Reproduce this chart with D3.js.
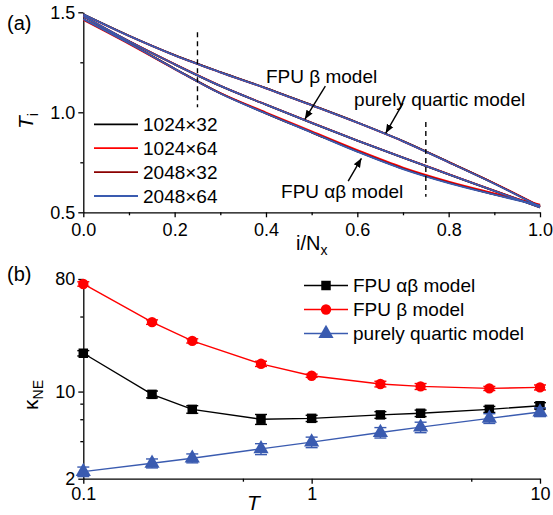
<!DOCTYPE html>
<html>
<head>
<meta charset="utf-8">
<script src="https://cdn.jsdelivr.net/npm/d3@7/dist/d3.min.js"></script>
<style>
  body { margin: 0; background: #fff; }
  svg { display: block; font-family: "Liberation Sans", Arial, sans-serif; }
  .axis path, .axis line { stroke: #000; stroke-width: 1.3; }
  .axis text { font-size: 18px; fill: #000; font-family: "Liberation Sans", Arial, sans-serif; }
</style>
</head>
<body>
<div id="chart"></div>
<script>
// ---- panel (a): temperature profiles ----
var posX = [0, 0.1, 0.2, 0.3, 0.4, 0.5, 0.6, 0.7, 0.8, 0.9, 1.0];
var sizes = ['1024\u00d732', '1024\u00d764', '2048\u00d732', '2048\u00d764'];
var sizeColors = ['#000000', '#ff0000', '#8b0000', '#3a5bb0'];

// purely quartic model
var quartic1024x32 = [1.490, 1.383, 1.286, 1.201, 1.121, 1.036, 0.949, 0.856, 0.751, 0.644, 0.528];
var quartic1024x64 = [1.488, 1.382, 1.285, 1.200, 1.120, 1.035, 0.948, 0.855, 0.751, 0.645, 0.531];
var quartic2048x32 = [1.490, 1.383, 1.286, 1.201, 1.121, 1.036, 0.949, 0.856, 0.751, 0.644, 0.528];
var quartic2048x64 = [1.490, 1.382, 1.285, 1.200, 1.120, 1.035, 0.948, 0.855, 0.750, 0.643, 0.528];
// FPU beta model
var beta1024x32 = [1.480, 1.355, 1.240, 1.132, 1.038, 0.947, 0.858, 0.773, 0.690, 0.607, 0.525];
var beta1024x64 = [1.479, 1.356, 1.241, 1.133, 1.039, 0.948, 0.859, 0.774, 0.691, 0.608, 0.527];
var beta2048x32 = [1.480, 1.355, 1.240, 1.132, 1.038, 0.947, 0.858, 0.773, 0.690, 0.607, 0.525];
var beta2048x64 = [1.481, 1.355, 1.240, 1.132, 1.038, 0.947, 0.858, 0.773, 0.690, 0.607, 0.524];
// FPU alpha-beta model
var ab1024x32 = [1.465, 1.345, 1.218, 1.095, 0.995, 0.900, 0.805, 0.718, 0.648, 0.590, 0.535];
var ab1024x64 = [1.462, 1.342, 1.216, 1.096, 0.999, 0.905, 0.811, 0.724, 0.654, 0.595, 0.538];
var ab2048x32 = [1.465, 1.345, 1.218, 1.095, 0.995, 0.900, 0.805, 0.718, 0.648, 0.590, 0.535];
var ab2048x64 = [1.466, 1.345, 1.217, 1.094, 0.994, 0.899, 0.803, 0.716, 0.646, 0.588, 0.533];

var profiles = [
  [quartic1024x32, quartic1024x64, quartic2048x32, quartic2048x64],
  [beta1024x32, beta1024x64, beta2048x32, beta2048x64],
  [ab1024x32, ab1024x64, ab2048x32, ab2048x64]
];

// ---- panel (b): conductivity vs T ----
var tempT = [0.1, 0.2, 0.3, 0.6, 1, 2, 3, 6, 10];
var kappaAB = [20.3, 9.5, 7.2, 6.0, 6.1, 6.5, 6.7, 7.2, 7.7];
var errAB = [1.0, 0.6, 0.5, 0.55, 0.35, 0.4, 0.4, 0.4, 0.45];
var kappaBeta = [73, 36.1, 25.5, 16.7, 13.4, 11.5, 11.0, 10.6, 10.8];
var errBeta = [3, 1.5, 1.0, 0.8, 0.4, 0.6, 0.6, 0.4, 0.5];
var kappaQ = [2.28, 2.66, 2.92, 3.47, 3.93, 4.69, 5.18, 6.1, 6.85];
var errQ = [0.2, 0.22, 0.24, 0.35, 0.38, 0.45, 0.5, 0.55, 0.55];
var modelNames = ['FPU \u03b1\u03b2 model', 'FPU \u03b2 model', 'purely quartic model'];
var modelColors = ['#000000', '#ff0000', '#3a5bb0'];
var modelShapes = [d3.symbolSquare, d3.symbolCircle, d3.symbolTriangle];

var W = 553, H = 515;
var svg = d3.select('#chart').append('svg').attr('width', W).attr('height', H);

// ================= panel (a) =================
var xA = d3.scaleLinear().domain([0, 1]).range([83.3, 540]);
var yA = d3.scaleLinear().domain([0.5, 1.5]).range([212.3, 12.3]);
var gA = svg.append('g');

function minorAxis(g, axis) { g.call(axis).call(function(s){ s.select('.domain').remove(); s.selectAll('text').remove(); }); }

gA.append('g').attr('class', 'axis').attr('transform', 'translate(0,212.3)')
  .call(d3.axisBottom(xA).tickValues([0, 0.2, 0.4, 0.6, 0.8, 1.0]).tickSize(5).tickSizeOuter(0).tickPadding(6).tickFormat(d3.format('.1f')));
minorAxis(gA.append('g').attr('class', 'axis').attr('transform', 'translate(0,212.3)'),
  d3.axisBottom(xA).tickValues([0.1, 0.3, 0.5, 0.7, 0.9]).tickSize(3));
gA.append('g').attr('class', 'axis').attr('transform', 'translate(83.3,0)')
  .call(d3.axisLeft(yA).tickValues([0.5, 1.0, 1.5]).tickSize(5).tickSizeOuter(0).tickPadding(3).tickFormat(d3.format('.1f')));
minorAxis(gA.append('g').attr('class', 'axis').attr('transform', 'translate(83.3,0)'),
  d3.axisLeft(yA).tickValues([0.75, 1.25]).tickSize(3));

var lineA = d3.line().x(function(d, i) { return xA(posX[i]); }).y(function(d) { return yA(d); }).curve(d3.curveMonotoneX);
sizes.forEach(function(s, k) {
  profiles.forEach(function(model) {
    gA.append('path').attr('d', lineA(model[k])).attr('fill', 'none')
      .attr('stroke', sizeColors[k]).attr('stroke-width', 1.8);
  });
});

// dashed guides
gA.append('line').attr('x1', xA(0.25)).attr('x2', xA(0.25)).attr('y1', yA(1.4)).attr('y2', yA(1.025))
  .attr('stroke', '#000').attr('stroke-width', 1.4).attr('stroke-dasharray', '5,4');
gA.append('line').attr('x1', xA(0.75)).attr('x2', xA(0.75)).attr('y1', yA(0.952)).attr('y2', yA(0.578))
  .attr('stroke', '#000').attr('stroke-width', 1.4).attr('stroke-dasharray', '5,4');

// arrows
svg.append('defs').append('marker').attr('id', 'arr').attr('viewBox', '0 0 10 10')
  .attr('refX', 10).attr('refY', 5).attr('markerWidth', 9).attr('markerHeight', 9)
  .attr('markerUnits', 'userSpaceOnUse').attr('orient', 'auto')
  .append('path').attr('d', 'M0,1 L10,5 L0,9 Z').attr('fill', '#000');
var arrows = [
  [0.530, 1.131, 0.485, 0.965],
  [0.700, 1.046, 0.662, 0.895],
  [0.580, 0.656, 0.609, 0.770]
];
arrows.forEach(function(a) {
  gA.append('line').attr('x1', xA(a[0])).attr('y1', yA(a[1])).attr('x2', xA(a[2])).attr('y2', yA(a[3]))
    .attr('stroke', '#000').attr('stroke-width', 1.4).attr('marker-end', 'url(#arr)');
});
var notes = [
  ['FPU \u03b2 model', 0.400, 1.145],
  ['purely quartic model', 0.593, 1.032],
  ['FPU \u03b1\u03b2 model', 0.433, 0.572]
];
notes.forEach(function(n) {
  gA.append('text').attr('x', xA(n[1])).attr('y', yA(n[2])).attr('font-size', 19).text(n[0]);
});

// legend (a)
sizes.forEach(function(s, k) {
  var yy = 124.3 + k * 23.9;
  gA.append('line').attr('x1', 94).attr('x2', 138).attr('y1', yy).attr('y2', yy)
    .attr('stroke', sizeColors[k]).attr('stroke-width', 1.8);
  gA.append('text').attr('x', 143).attr('y', yy + 6.5).attr('font-size', 19).text(s);
});

svg.append('text').attr('x', 7).attr('y', 30).attr('font-size', 20).text('(a)');
var tl = svg.append('text').attr('transform', 'translate(33,121) rotate(-90)').attr('text-anchor', 'middle').attr('font-size', 21);
tl.append('tspan').attr('font-style', 'italic').text('T');
tl.append('tspan').attr('font-size', 14).attr('dy', 5).text('i');
var xl = svg.append('text').attr('x', 296).attr('y', 250).attr('font-size', 20);
xl.append('tspan').text('i/N');
xl.append('tspan').attr('font-size', 14).attr('dy', 5).text('x');

// ================= panel (b) =================
var xB = d3.scaleLog().domain([0.1, 10]).range([83.3, 540]);
var yB = d3.scaleLog().domain([2, 80]).range([478.7, 279]);
var gB = svg.append('g');

gB.append('g').attr('class', 'axis').attr('transform', 'translate(0,478.7)')
  .call(d3.axisBottom(xB).tickValues([0.1, 1, 10]).tickSize(5).tickSizeOuter(0).tickPadding(4).tickFormat(d3.format('~g')));
minorAxis(gB.append('g').attr('class', 'axis').attr('transform', 'translate(0,478.7)'),
  d3.axisBottom(xB).tickValues([0.5, 5]).tickSize(3));
gB.append('g').attr('class', 'axis').attr('transform', 'translate(83.3,0)')
  .call(d3.axisLeft(yB).tickValues([2, 10, 80]).tickSize(5).tickSizeOuter(0).tickPadding(3).tickFormat(d3.format('~g')));
minorAxis(gB.append('g').attr('class', 'axis').attr('transform', 'translate(83.3,0)'),
  d3.axisLeft(yB).tickValues([4, 6, 8, 20, 40]).tickSize(3));

var seriesB = [[kappaAB, errAB], [kappaBeta, errBeta], [kappaQ, errQ]];
var lineB = d3.line().x(function(d, i) { return xB(tempT[i]); }).y(function(d) { return yB(d); });
var symSizes = [90, 85, 100];
seriesB.forEach(function(s, m) {
  var c = modelColors[m];
  gB.append('path').attr('d', lineB(s[0])).attr('fill', 'none').attr('stroke', c).attr('stroke-width', 1.4);
  s[0].forEach(function(v, i) {
    var cx = xB(tempT[i]);
    var y1 = yB(v + s[1][i]), y2 = yB(v - s[1][i]);
    gB.append('line').attr('x1', cx).attr('x2', cx).attr('y1', y1).attr('y2', y2).attr('stroke', c).attr('stroke-width', 1.4);
    [y1, y2].forEach(function(yy) {
      gB.append('line').attr('x1', cx - 6).attr('x2', cx + 6).attr('y1', yy).attr('y2', yy).attr('stroke', c).attr('stroke-width', 1.4);
    });
    gB.append('path').attr('d', d3.symbol().type(modelShapes[m]).size(symSizes[m])())
      .attr('transform', 'translate(' + cx + ',' + yB(v) + ')').attr('fill', c);
  });
});

// legend (b)
modelNames.forEach(function(n, m) {
  var yy = 285.5 + m * 24;
  gB.append('line').attr('x1', 304).attr('x2', 348).attr('y1', yy).attr('y2', yy).attr('stroke', modelColors[m]).attr('stroke-width', 1.4);
  gB.append('path').attr('d', d3.symbol().type(modelShapes[m]).size(symSizes[m])())
    .attr('transform', 'translate(326,' + yy + ')').attr('fill', modelColors[m]);
  gB.append('text').attr('x', 353).attr('y', yy + 6.5).attr('font-size', 19).text(n);
});

svg.append('text').attr('x', 7).attr('y', 281).attr('font-size', 20).text('(b)');
var kl = svg.append('text').attr('transform', 'translate(38,395) rotate(-90)').attr('text-anchor', 'middle').attr('font-size', 21);
kl.append('tspan').text('\u03ba');
kl.append('tspan').attr('font-size', 14).attr('dy', 5).text('NE');
svg.append('text').attr('x', 247).attr('y', 510).attr('font-size', 21).attr('font-style', 'italic').text('T');
</script>
</body>
</html>
